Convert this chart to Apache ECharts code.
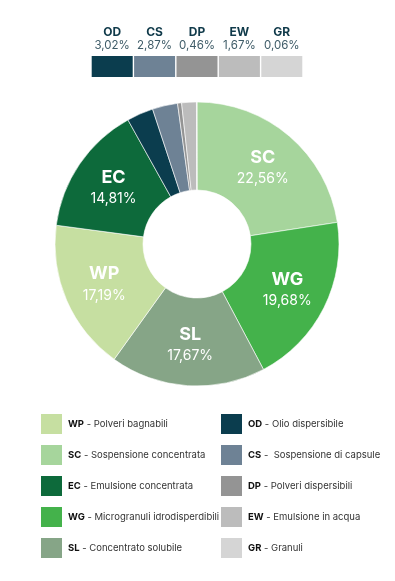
<!DOCTYPE html>
<html lang="it">
<head>
	<meta charset="UTF-8">
	<title>Formulazioni</title>
	<script type="text/javascript" src="https://cdn.jsdelivr.net/npm/echarts@6/dist/echarts.min.js"></script>
	<style>
		html, body { margin: 0; padding: 0; background: #fff; }
		#chart { width: 395px; height: 581px; }
	</style>
</head>
<body>
	<div id="chart"></div>
	<script type="text/javascript">
		// pie slices, clockwise from the top
		var codes = ['SC', 'WG', 'SL', 'WP', 'EC', 'OD', 'CS', 'DP', 'EW', 'GR'];
		var values = [22.56, 19.68, 17.67, 17.19, 14.81, 3.02, 2.87, 0.46, 1.67, 0.06];
		var colors = ['#a6d59c', '#44b24b', '#86a587', '#c6dfa1', '#0d6a3b', '#0b3d4e', '#6e8295', '#949494', '#bcbcbc', '#d5d5d5'];
		var names = {
			WP: 'Polveri bagnabili',
			SC: 'Sospensione concentrata',
			EC: 'Emulsione concentrata',
			WG: 'Microgranuli idrodisperdibili',
			SL: 'Concentrato solubile',
			OD: 'Olio dispersibile',
			CS: ' Sospensione di capsule',
			DP: 'Polveri dispersibili',
			EW: 'Emulsione in acqua',
			GR: 'Granuli'
		};
		var legendLeft = ['WP', 'SC', 'EC', 'WG', 'SL'];
		var legendRight = ['OD', 'CS', 'DP', 'EW', 'GR'];
		// small ones shown in the strip on top
		var small = ['OD', 'CS', 'DP', 'EW', 'GR'];
		var bigLabels = ['SC', 'WG', 'SL', 'WP', 'EC'];

		var font = 'Inter, "Noto Sans", sans-serif';
		function pct(v) {
			return v.toFixed(2).replace('.', ',') + '%';
		}
		function colorOf(c) {
			return colors[codes.indexOf(c)];
		}

		var pieData = codes.map(function (c, i) {
			return {
				name: c,
				value: values[i],
				itemStyle: { color: colors[i] },
				label: { show: bigLabels.indexOf(c) >= 0 }
			};
		});
		var stripData = small.map(function (c) {
			return {
				value: 1,
				code: c,
				pv: values[codes.indexOf(c)],
				itemStyle: { color: colorOf(c) }
			};
		});

		var legendBase = {
			orient: 'vertical',
			top: 412,
			padding: 0,
			itemWidth: 23,
			itemHeight: 22,
			itemGap: 7,
			icon: 'rect',
			selectedMode: false,
			formatter: function (n) {
				return '{b|' + n + '} - ' + names[n];
			},
			textStyle: {
				fontFamily: font,
				fontSize: 9.5,
				color: '#333',
				rich: {
					b: { fontFamily: font, fontSize: 9.5, fontWeight: 'bold', color: '#111' }
				}
			}
		};

		var myChart = echarts.init(document.getElementById('chart'));
		var option = {
			backgroundColor: '#fff',
			animation: false,
			legend: [
				Object.assign({}, legendBase, { left: 39, width: 175, data: legendLeft }),
				Object.assign({}, legendBase, { left: 219, width: 175, data: legendRight })
			],
			grid: { left: 91, top: 56, width: 212, height: 21 },
			xAxis: { type: 'category', data: small, show: false },
			yAxis: { type: 'value', min: 0, max: 1, show: false },
			series: [
				{
					type: 'pie',
					center: [197, 244],
					radius: [54, 142],
					startAngle: 90,
					clockwise: true,
					avoidLabelOverlap: false,
					itemStyle: { borderColor: '#fff', borderWidth: 0.6 },
					label: {
						position: 'inside',
						formatter: function (p) {
							return '{c|' + p.name + '}\n{p|' + pct(p.value) + '}';
						},
						rich: {
							c: { fontFamily: font, fontSize: 18, fontWeight: 'bold', color: '#fff', lineHeight: 23 },
							p: { fontFamily: font, fontSize: 14, color: '#fff', lineHeight: 20 }
						}
					},
					labelLine: { show: false },
					data: pieData
				},
				{
					type: 'bar',
					barWidth: 41,
					data: stripData,
					label: {
						show: true,
						position: 'top',
						distance: 4,
						formatter: function (p) {
							return '{c|' + p.data.code + '}\n{p|' + pct(p.data.pv) + '}';
						},
						rich: {
							c: { fontFamily: font, fontSize: 12, fontWeight: 'bold', color: '#103a4a', lineHeight: 14, align: 'center' },
							p: { fontFamily: font, fontSize: 11.5, color: '#3f5c68', lineHeight: 13, align: 'center' }
						}
					}
				}
			]
		};
		myChart.setOption(option);
	</script>
</body>
</html>
